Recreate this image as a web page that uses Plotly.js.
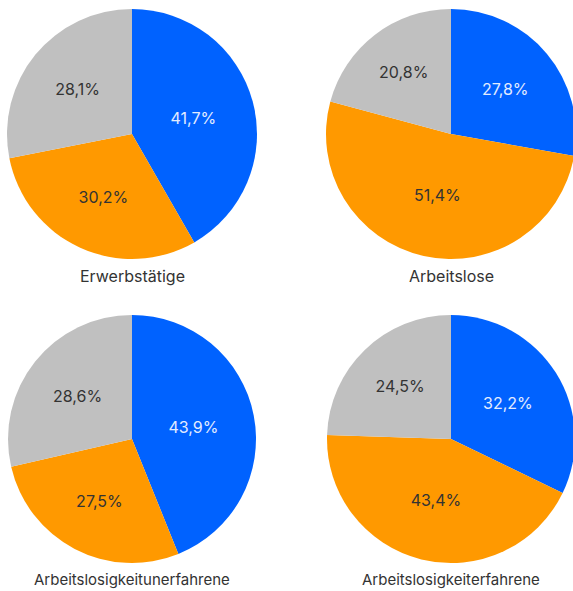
<!DOCTYPE html>
<html>
<head>
<meta charset="utf-8">
<script src="https://cdn.plot.ly/plotly-3.0.1.min.js"></script>
<style>
html,body{margin:0;padding:0;overflow:hidden;background:#fff;}
#wrap{width:573px;height:591px;overflow:hidden;}
#chart{width:580px;height:591px;}
</style>
</head>
<body>
<div id="wrap"><div id="chart"></div></div>
<script>
const categories = ['Blau', 'Orange', 'Grau'];
const groups = ['Erwerbstätige', 'Arbeitslose', 'Arbeitslosigkeitunerfahrene', 'Arbeitslosigkeiterfahrene'];
const erwerbstaetige = [41.7, 30.2, 28.1];
const arbeitslose = [27.8, 51.4, 20.8];
const unerfahrene = [43.9, 27.5, 28.6];
const erfahrene = [32.2, 43.4, 24.5];
const series = [erwerbstaetige, arbeitslose, unerfahrene, erfahrene];

const W = 580, H = 591;
const colors = ['#0062ff', '#ff9900', '#c0c0c0'];
const textColors = ['#e3ecff', '#333333', '#333333'];
// pie centres / radius in px
const geo = [
  {cx: 132, cy: 134, r: 125},
  {cx: 451, cy: 134, r: 125},
  {cx: 132, cy: 439, r: 124},
  {cx: 451, cy: 439, r: 124}
];
const labelY = [276, 276, 579, 579];
const labelSize = [16, 16, 15, 15];

const data = series.map((vals, i) => {
  const g = geo[i];
  return {
    type: 'pie',
    labels: categories,
    values: vals,
    sort: false,
    direction: 'clockwise',
    rotation: 0,
    hole: 0,
    textinfo: 'text',
    text: vals.map(v => v.toFixed(1).replace('.', ',') + '%'),
    textposition: 'inside',
    insidetextorientation: 'horizontal',
    insidetextfont: {family: 'Inter, sans-serif', size: 16, color: textColors},
    marker: {colors: colors, line: {width: 0}},
    domain: {
      x: [(g.cx - g.r) / W, (g.cx + g.r) / W],
      y: [1 - (g.cy + g.r) / H, 1 - (g.cy - g.r) / H]
    },
    showlegend: false,
    hoverinfo: 'label+text'
  };
});

const annotations = groups.map((t, i) => ({
  text: t,
  x: geo[i].cx / W,
  y: 1 - labelY[i] / H,
  xref: 'paper', yref: 'paper',
  xanchor: 'center', yanchor: 'middle',
  showarrow: false,
  font: {family: 'Inter, sans-serif', size: labelSize[i], color: '#333333'}
}));

const layout = {
  width: W, height: H,
  margin: {l: 0, r: 0, t: 0, b: 0},
  paper_bgcolor: '#ffffff',
  annotations: annotations,
  showlegend: false
};

Plotly.newPlot('chart', data, layout, {displayModeBar: false, staticPlot: true});
</script>
</body>
</html>
